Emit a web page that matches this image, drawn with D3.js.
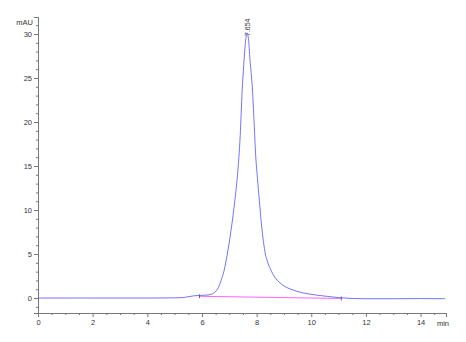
<!DOCTYPE html>
<html>
<head>
<meta charset="utf-8">
<script src="https://cdn.jsdelivr.net/npm/d3@7"></script>
<style>
  body { margin: 0; background: #fff; }
  svg { display: block; }
  .axis text { font-family: "Liberation Sans", Arial, sans-serif; font-size: 7.5px; fill: #333; }
</style>
</head>
<body>
<script>
// chromatogram, absorbance (mAU) against retention time (min)
var w = 466;
var h = 342;

var times = [0, 1, 2, 3, 4, 5, 5.3, 5.5, 5.7, 5.9, 6.1, 6.3, 6.45, 6.6, 6.7, 6.8, 6.95, 7.1, 7.2, 7.3,
  7.4, 7.47, 7.53, 7.6, 7.654, 7.7, 7.76, 7.84, 7.9, 7.96, 8.03, 8.1, 8.18, 8.25, 8.32, 8.4, 8.5,
  8.6, 8.76, 8.9, 9.1, 9.3, 9.6, 9.9, 10.2, 10.6, 11.0, 11.5, 12, 13, 14, 14.9];
var mAU = [0, 0, 0, 0, 0, 0.02, 0.05, 0.15, 0.25, 0.3, 0.32, 0.4, 0.6, 1.2, 2.0, 3.0, 5.4, 8.5, 11, 14,
  18.5, 23.5, 26.5, 29.3, 30.1, 29.5, 27, 24, 20.5, 16.5, 13.6, 11.1, 8.3, 6.4, 5.0, 4.1, 3.3,
  2.7, 2.0, 1.6, 1.2, 0.95, 0.65, 0.47, 0.33, 0.18, 0.05, -0.05, -0.08, -0.08, -0.06, -0.08];

// integration baseline under the peak
var baseTimes = [5.91, 11.1];
var baseValues = [0.2, -0.05];

var peakTime = 7.654;
var peakLabel = "7.654";

var xMajor = [0, 2, 4, 6, 8, 10, 12, 14];
var yMajor = [0, 5, 10, 15, 20, 25, 30];

var scaleX = d3.scaleLinear().domain([0, 14.93]).range([38, 446]);
var scaleY = d3.scaleLinear().domain([-1.7, 31.93]).range([313, 17]);

var svg = d3.select("body").append("svg")
  .attr("width", w)
  .attr("height", h);

// x axis, ticks pointing down, minor every half minute
var xAxis = d3.axisBottom(scaleX).tickValues(xMajor).tickSize(4).tickPadding(3)
  .tickFormat(d3.format("d"));
var xMinor = d3.axisBottom(scaleX).tickValues(d3.range(0.5, 14.9, 0.5).filter(function(d) {
    return d % 2 !== 0;
  })).tickSize(2).tickFormat("");

svg.append("g").attr("class", "axis")
  .attr("transform", "translate(0,313)")
  .call(xAxis);
svg.append("g").attr("class", "axis")
  .attr("transform", "translate(0,313)")
  .call(xMinor);

// y axis, ticks pointing left, minor every unit
var yAxis = d3.axisLeft(scaleY).tickValues(yMajor).tickSize(4).tickPadding(2);
var yMinor = d3.axisLeft(scaleY).tickValues(d3.range(-1, 32, 1).filter(function(d) {
    return d % 5 !== 0;
  })).tickSize(2).tickFormat("");

svg.append("g").attr("class", "axis")
  .attr("transform", "translate(38,0)")
  .call(yAxis);
svg.append("g").attr("class", "axis")
  .attr("transform", "translate(38,0)")
  .call(yMinor);

svg.selectAll(".axis path").attr("stroke", "#777").attr("stroke-width", 1);
svg.selectAll(".axis line").attr("stroke", "#777");

// unit labels
svg.append("text")
  .attr("x", 33).attr("y", 25)
  .attr("text-anchor", "end")
  .attr("font-family", "Liberation Sans, Arial, sans-serif")
  .attr("font-size", "7.5px").attr("fill", "#333")
  .text("mAU");
svg.append("text")
  .attr("x", 443).attr("y", 326)
  .attr("text-anchor", "middle")
  .attr("font-family", "Liberation Sans, Arial, sans-serif")
  .attr("font-size", "7.5px").attr("fill", "#333")
  .text("min");

// baseline
var base = baseTimes.map(function(t, i) { return [t, baseValues[i]]; });
svg.append("path")
  .datum(base)
  .attr("fill", "none")
  .attr("stroke", "#ff66ff")
  .attr("stroke-width", 1)
  .attr("d", d3.line()
    .x(function(d) { return scaleX(d[0]); })
    .y(function(d) { return scaleY(d[1]); }));

// integration markers
svg.selectAll(".mark")
  .data(base)
  .enter()
  .append("line")
  .attr("class", "mark")
  .attr("x1", function(d) { return scaleX(d[0]); })
  .attr("x2", function(d) { return scaleX(d[0]); })
  .attr("y1", function(d) { return scaleY(d[1]) - 2; })
  .attr("y2", function(d) { return scaleY(d[1]) + 2; })
  .attr("stroke", "#444")
  .attr("stroke-width", 0.8);

// signal
var signal = times.map(function(t, i) { return [t, mAU[i]]; });
svg.append("path")
  .datum(signal)
  .attr("fill", "none")
  .attr("stroke", "#5a5aff")
  .attr("stroke-opacity", 0.85)
  .attr("stroke-width", 1)
  .attr("d", d3.line()
    .curve(d3.curveMonotoneX)
    .x(function(d) { return scaleX(d[0]); })
    .y(function(d) { return scaleY(d[1]); }));

// peak label, written upward
var px = scaleX(peakTime);
svg.append("text")
  .attr("transform", "translate(" + (px + 2.5) + "," + 36 + ") rotate(-90)")
  .attr("font-family", "Liberation Sans, Arial, sans-serif")
  .attr("font-size", "7px").attr("fill", "#333")
  .text(peakLabel);
</script>
</body>
</html>
